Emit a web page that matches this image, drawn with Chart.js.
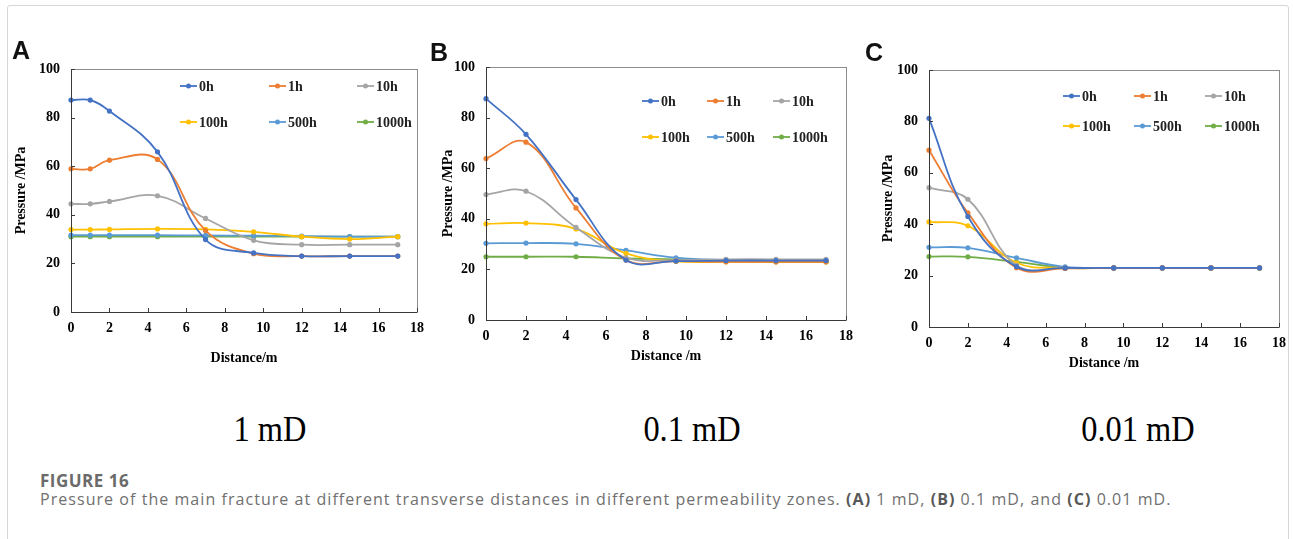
<!DOCTYPE html>
<html>
<head>
<meta charset="utf-8">
<script src="https://cdn.jsdelivr.net/npm/chart.js@4.4.0/dist/chart.umd.min.js"></script>
<style>
  body { margin: 0; background: #fff; width: 1293px; height: 539px; overflow: hidden; position: relative; }
  .frame { position: absolute; left: 7px; top: 5px; width: 1280px; height: 600px; border: 1px solid #d6d6d6; border-radius: 3px; }
  .panel { position: absolute; }
  .letter { position: absolute; font-family: "Liberation Sans", Arial, sans-serif; font-weight: bold; font-size: 25px; color: #111; }
  .perm { position: absolute; top: 408px; font-family: "Liberation Serif", serif; font-size: 36px; color: #000; transform: translateX(-50%) scaleX(0.9); white-space: nowrap; }
  .fig-label { position: absolute; left: 40px; top: 469px; font-family: "Open Sans", sans-serif; font-weight: bold; font-size: 17px; letter-spacing: 0.5px; color: #6b6b6b; }
  .fig-caption { position: absolute; left: 40px; top: 488px; font-family: "Open Sans", sans-serif; font-size: 16px; letter-spacing: 1.05px; color: #707070; white-space: nowrap; }
  .fig-caption b { color: #585858; }
</style>
</head>
<body>
<div class="frame"></div>

<canvas id="chartA" class="panel" width="430" height="312" style="left:0px;top:60px"></canvas>
<canvas id="chartB" class="panel" width="440" height="320" style="left:420px;top:60px"></canvas>
<canvas id="chartC" class="panel" width="433" height="325" style="left:860px;top:60px"></canvas>

<div class="letter" style="left:12px;top:36px">A</div>
<div class="letter" style="left:430px;top:38px">B</div>
<div class="letter" style="left:865px;top:38px">C</div>

<div class="perm" style="left:270px">1 mD</div>
<div class="perm" style="left:692px">0.1 mD</div>
<div class="perm" style="left:1138px">0.01 mD</div>

<div class="fig-label">FIGURE 16</div>
<div class="fig-caption">Pressure of the main fracture at different transverse distances in different permeability zones. <b>(A)</b> 1 mD, <b>(B)</b> 0.1 mD, and <b>(C)</b> 0.01 mD.</div>

<script>
// Series shared by all three panels
const timeLabels = ['0h', '1h', '10h', '100h', '500h', '1000h'];
const seriesColors = ['#4472C4', '#ED7D31', '#A5A5A5', '#FFC000', '#5B9BD5', '#70AD47'];

// Axis ticks
const distanceTicks = [0, 2, 4, 6, 8, 10, 12, 14, 16, 18];
const pressureTicks = [0, 20, 40, 60, 80, 100];

// Panel A: 1 mD
const distanceA = [0, 1, 2, 4.5, 7, 9.5, 12, 14.5, 17];
const pressureA0h = [87.2, 87.2, 82.7, 65.9, 29.8, 24.3, 23.0, 23.0, 23.0];
const pressureA1h = [58.9, 58.9, 62.5, 62.8, 33.5, 24.0, 23.0, 23.0, 23.0];
const pressureA10h = [44.5, 44.5, 45.5, 47.8, 38.5, 29.5, 27.7, 27.7, 27.7];
const pressureA100h = [33.9, 33.9, 34.0, 34.2, 34.0, 33.0, 31.0, 30.0, 31.0];
const pressureA500h = [31.6, 31.6, 31.6, 31.6, 31.5, 31.4, 31.2, 31.0, 31.0];
const pressureA1000h = [31.0, 31.0, 31.0, 31.0, 31.0, 31.0, 31.0, 31.0, 31.0];

// Panel B: 0.1 mD
const distanceB = [0, 2, 4.5, 7, 9.5, 12, 14.5, 17];
const pressureB0h = [87.5, 73.4, 47.6, 23.7, 23.3, 23.5, 23.5, 23.5];
const pressureB1h = [63.8, 70.3, 44.3, 23.7, 23.3, 23.0, 23.0, 23.0];
const pressureB10h = [49.6, 50.9, 36.6, 24.6, 23.7, 24.0, 24.0, 24.0];
const pressureB100h = [38.0, 38.3, 36.0, 26.3, 23.2, 23.0, 23.0, 23.0];
const pressureB500h = [30.3, 30.4, 30.1, 27.5, 24.6, 23.7, 23.5, 23.5];
const pressureB1000h = [25.0, 25.0, 25.0, 24.3, 24.0, 23.4, 23.0, 23.0];

// Panel C: 0.01 mD
const distanceC = [0, 2, 4.5, 7, 9.5, 12, 14.5, 17];
const pressureC0h = [81.2, 43.0, 23.5, 23.0, 23.0, 23.0, 23.0, 23.0];
const pressureC1h = [68.8, 44.4, 23.1, 22.8, 23.0, 23.0, 23.0, 23.0];
const pressureC10h = [54.2, 49.7, 24.0, 23.0, 23.0, 23.0, 23.0, 23.0];
const pressureC100h = [40.9, 39.4, 25.0, 23.0, 23.0, 23.0, 23.0, 23.0];
const pressureC500h = [31.0, 30.8, 26.9, 23.4, 23.0, 23.0, 23.0, 23.0];
const pressureC1000h = [27.4, 27.3, 25.3, 23.1, 23.0, 23.0, 23.0, 23.0];

const serifBold = { family: '"Liberation Serif", "Times New Roman", serif', weight: 'bold', size: 14 };

// Plot box, inward tick marks and the 3x2 legend drawn inside the plot
const panelDecor = {
  id: 'panelDecor',
  afterDatasetsDraw(chart, args, opts) {
    const { ctx, chartArea: a, scales } = chart;
    ctx.save();
    ctx.lineWidth = 1;
    ctx.strokeStyle = '#8c8c8c';
    ctx.strokeRect(a.left + 0.5, a.top + 0.5, a.width, a.height);
    ctx.strokeStyle = '#3a3a3a';
    ctx.beginPath();
    ctx.moveTo(a.left + 0.5, a.top);
    ctx.lineTo(a.left + 0.5, a.bottom + 0.5);
    ctx.lineTo(a.right, a.bottom + 0.5);
    scales.x.ticks.forEach(t => {
      const px = Math.round(scales.x.getPixelForValue(t.value)) + 0.5;
      ctx.moveTo(px, a.bottom);
      ctx.lineTo(px, a.bottom - 4);
    });
    scales.y.ticks.forEach(t => {
      const py = Math.round(scales.y.getPixelForValue(t.value)) + 0.5;
      ctx.moveTo(a.left, py);
      ctx.lineTo(a.left + 4, py);
    });
    ctx.stroke();

    ctx.font = 'bold 14px "Liberation Serif", "Times New Roman", serif';
    ctx.textBaseline = 'middle';
    chart.data.datasets.forEach((ds, i) => {
      const x = a.left + opts.cols[i % 3];
      const y = a.top + opts.rows[Math.floor(i / 3)];
      ctx.strokeStyle = ds.borderColor;
      ctx.lineWidth = 1.8;
      ctx.beginPath();
      ctx.moveTo(x, y);
      ctx.lineTo(x + 17, y);
      ctx.stroke();
      ctx.fillStyle = ds.borderColor;
      ctx.beginPath();
      ctx.arc(x + 8.5, y, 2.5, 0, Math.PI * 2);
      ctx.fill();
      ctx.fillStyle = '#222';
      ctx.fillText(ds.label, x + 19, y + 1);
    });
    ctx.restore();
  }
};

function makePanel(id, distances, seriesList, xTitle, box) {
  const datasets = seriesList.map((values, i) => ({
    label: timeLabels[i],
    data: values.map((v, k) => ({ x: distances[k], y: v })),
    borderColor: seriesColors[i],
    backgroundColor: seriesColors[i],
    borderWidth: 1.8,
    pointRadius: 2.6,
    pointBorderWidth: 0,
    tension: 0.4,
    fill: false
  }));

  return new Chart(document.getElementById(id), {
    type: 'line',
    data: { datasets },
    plugins: [panelDecor],
    options: {
      responsive: false,
      animation: false,
      clip: false,
      layout: { padding: { left: 0, top: box.top, right: box.right, bottom: 0 } },
      plugins: {
        legend: { display: false },
        tooltip: { enabled: false },
        panelDecor: { cols: box.cols, rows: box.rows }
      },
      scales: {
        x: {
          type: 'linear',
          min: 0,
          max: 18,
          afterBuildTicks: s => { s.ticks = distanceTicks.map(v => ({ value: v })); },
          afterFit: s => { s.height = box.xHeight; s.paddingLeft = 0; s.paddingRight = 0; },
          grid: { display: false, drawTicks: false },
          border: { display: false },
          ticks: { padding: 8, color: '#000', font: serifBold },
          title: { display: true, text: xTitle, color: '#000', font: serifBold, padding: { top: 0, bottom: box.xTitlePad } }
        },
        y: {
          min: 0,
          max: 100,
          afterBuildTicks: s => { s.ticks = pressureTicks.map(v => ({ value: v })); },
          afterFit: s => { s.width = box.yWidth; s.paddingTop = 0; s.paddingBottom = 0; },
          grid: { display: false, drawTicks: false },
          border: { display: false },
          ticks: { padding: 11, color: '#000', font: serifBold },
          title: { display: true, text: 'Pressure /MPa', color: '#000', font: serifBold, padding: { top: box.yTitlePad, bottom: 0 } }
        }
      }
    }
  });
}

makePanel('chartA', distanceA,
  [pressureA0h, pressureA1h, pressureA10h, pressureA100h, pressureA500h, pressureA1000h],
  'Distance/m',
  { top: 9, right: 13, xHeight: 60, yWidth: 71, xTitlePad: 5.6, yTitlePad: 12.6, cols: [109, 198, 286], rows: [17, 53] });

makePanel('chartB', distanceB,
  [pressureB0h, pressureB1h, pressureB10h, pressureB100h, pressureB500h, pressureB1000h],
  'Distance /m',
  { top: 7, right: 14, xHeight: 60, yWidth: 66, xTitlePad: 15.6, yTitlePad: 19.6, cols: [156, 221, 287], rows: [34, 70] });

makePanel('chartC', distanceC,
  [pressureC0h, pressureC1h, pressureC10h, pressureC100h, pressureC500h, pressureC1000h],
  'Distance /m',
  { top: 10, right: 14, xHeight: 58, yWidth: 69, xTitlePad: 13.6, yTitlePad: 19.6, cols: [134, 205, 276], rows: [26, 56] });
</script>
</body>
</html>
